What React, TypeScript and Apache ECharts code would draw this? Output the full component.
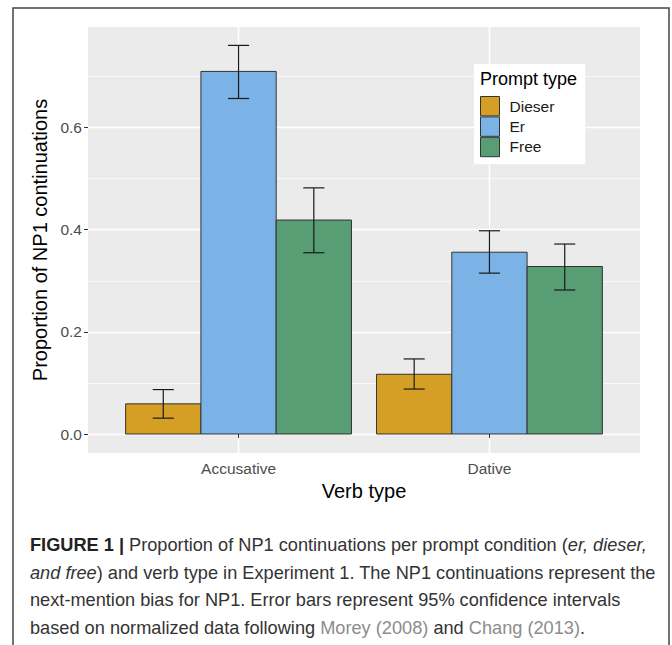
import React, { useEffect, useRef } from 'react';
import * as echarts from 'echarts';

const categories = ['Accusative', 'Dative'];
const promptTypes = ['Dieser', 'Er', 'Free'];
const dieserMean = [0.059, 0.117];
const dieserLower = [0.031, 0.088];
const dieserUpper = [0.087, 0.147];
const erMean = [0.71, 0.356];
const erLower = [0.657, 0.315];
const erUpper = [0.761, 0.398];
const freeMean = [0.419, 0.328];
const freeLower = [0.355, 0.282];
const freeUpper = [0.482, 0.372];
const yTicks = [0, 0.2, 0.4, 0.6];
const yMinorGrid = [0.1, 0.3, 0.5, 0.7];

const COLORS = ['#D59F25', '#7CB3E7', '#599D74'];
const FONT = '"Liberation Sans", Arial, Helvetica, sans-serif';
const BAR_W = 0.3;
const CAP_HALF = 0.042;

function makeSeries(name: string, idx: number, mean: number[], lower: number[], upper: number[]) {
  const offset = (idx - 1) * BAR_W;
  const color = COLORS[idx];
  return {
    type: 'custom',
    name,
    z: 3,
    itemStyle: { color, borderColor: '#333', borderWidth: 1 },
    encode: { x: 0, y: 1 },
    data: categories.map((c, i) => [i + 1, mean[i], lower[i], upper[i]]),
    renderItem: (params: any, api: any) => {
      const xc = api.value(0) + offset;
      const v = api.value(1);
      const lo = api.value(2);
      const hi = api.value(3);
      const tl = api.coord([xc - BAR_W / 2, v]);
      const br = api.coord([xc + BAR_W / 2, 0]);
      const top = api.coord([xc, hi]);
      const bot = api.coord([xc, lo]);
      const ch = api.size([CAP_HALF, 0])[0];
      const es = { stroke: '#1a1a1a', lineWidth: 1.2 };
      return {
        type: 'group',
        children: [
          {
            type: 'rect',
            shape: { x: tl[0], y: tl[1], width: br[0] - tl[0], height: br[1] - tl[1] },
            style: { fill: color, stroke: '#333', lineWidth: 1 },
          },
          { type: 'line', shape: { x1: top[0], y1: top[1], x2: bot[0], y2: bot[1] }, style: es },
          { type: 'line', shape: { x1: top[0] - ch, y1: top[1], x2: top[0] + ch, y2: top[1] }, style: es },
          { type: 'line', shape: { x1: bot[0] - ch, y1: bot[1], x2: bot[0] + ch, y2: bot[1] }, style: es },
        ],
      };
    },
  };
}

const captionLines = [
  '{b|FIGURE 1 |} Proportion of NP1 continuations per prompt condition ({i|er, dieser,}',
  '{i|and free}) and verb type in Experiment 1. The NP1 continuations represent the',
  'next-mention bias for NP1. Error bars represent 95% confidence intervals',
  'based on normalized data following {g|Morey (2008)} and {g|Chang (2013)}.',
];

export default function App() {
  const ref = useRef<HTMLDivElement>(null);
  useEffect(() => {
    document.body.style.margin = '0';
    const chart = echarts.init(ref.current as HTMLDivElement, null, { renderer: 'svg' });
    const capFont = 18.2;
    const capLH = 27.7;
    const rich = {
      b: { fontWeight: 'bold', fontSize: capFont, fontFamily: FONT, fill: '#222', lineHeight: capLH },
      i: { fontStyle: 'italic', fontSize: capFont, fontFamily: FONT, fill: '#333', lineHeight: capLH },
      g: { fontSize: capFont, fontFamily: FONT, fill: '#8c8c8c', lineHeight: capLH },
    };
    const series: any[] = [
      makeSeries(promptTypes[0], 0, dieserMean, dieserLower, dieserUpper),
      makeSeries(promptTypes[1], 1, erMean, erLower, erUpper),
      makeSeries(promptTypes[2], 2, freeMean, freeLower, freeUpper),
    ];
    series[0].markLine = {
      silent: true,
      symbol: 'none',
      z: 1,
      label: { show: false },
      lineStyle: { color: '#ffffff', width: 0.7, type: 'solid' },
      data: yMinorGrid.map((v) => ({ yAxis: v })),
    };
    const option: any = {
      animation: false,
      backgroundColor: '#ffffff',
      textStyle: { fontFamily: FONT },
      grid: {
        left: 88,
        top: 27,
        width: 552,
        height: 426,
        show: true,
        backgroundColor: '#EBEBEB',
        borderWidth: 0,
      },
      xAxis: {
        type: 'value',
        min: 0.4,
        max: 2.6,
        name: 'Verb type',
        nameLocation: 'middle',
        nameGap: 22,
        nameTextStyle: { fontSize: 20, color: '#000', fontFamily: FONT },
        axisLine: { show: false },
        axisTick: { show: true, length: 4, customValues: [1, 2], lineStyle: { color: '#333', width: 1 } },
        axisLabel: {
          customValues: [1, 2],
          margin: 7,
          fontSize: 15.5,
          color: '#4D4D4D',
          fontFamily: FONT,
          formatter: (v: number) => categories[Math.round(v) - 1] ?? '',
        },
        splitLine: { show: true, lineStyle: { color: '#ffffff', width: 1.4 } },
      },
      yAxis: {
        type: 'value',
        min: -0.0372,
        max: 0.797,
        name: 'Proportion of NP1 continuations',
        nameLocation: 'middle',
        nameGap: 30,
        nameTextStyle: { fontSize: 20, color: '#000', fontFamily: FONT },
        axisLine: { show: false },
        axisTick: { show: true, length: 4, customValues: yTicks, lineStyle: { color: '#333', width: 1 } },
        axisLabel: {
          customValues: yTicks,
          margin: 6,
          fontSize: 15.5,
          color: '#4D4D4D',
          fontFamily: FONT,
          formatter: (v: number) => v.toFixed(1),
        },
        splitLine: { show: true, lineStyle: { color: '#ffffff', width: 1.4 } },
      },
      legend: {
        orient: 'vertical',
        left: 474,
        top: 64,
        z: 5,
        padding: [32, 31, 7, 6],
        backgroundColor: '#ffffff',
        itemGap: 0,
        itemWidth: 19,
        itemHeight: 19.4,
        icon: 'rect',
        itemStyle: { borderColor: '#333', borderWidth: 1 },
        textStyle: { fontSize: 15.5, color: '#1a1a1a', fontFamily: FONT, padding: [0, 0, 0, 5] },
        data: promptTypes,
      },
      graphic: [
        {
          type: 'text',
          z: 10,
          x: 480,
          y: 79,
          style: { text: 'Prompt type', fontSize: 18, fontFamily: FONT, fill: '#000', verticalAlign: 'middle' },
        },
        {
          type: 'rect',
          z: 10,
          shape: { x: 13, y: 8, width: 656, height: 720 },
          style: { fill: 'none', stroke: '#454545', lineWidth: 1.5 },
        },
        ...captionLines.map((t, k) => ({
          type: 'text',
          z: 10,
          x: 30,
          y: 545 + k * capLH,
          style: {
            text: t,
            rich,
            fontSize: capFont,
            fontFamily: FONT,
            fill: '#333',
            verticalAlign: 'middle',
            lineHeight: capLH,
          },
        })),
      ],
      series,
    };
    chart.setOption(option);
    return () => chart.dispose();
  }, []);
  return <div ref={ref} style={{ width: 672, height: 645 }} />;
}
